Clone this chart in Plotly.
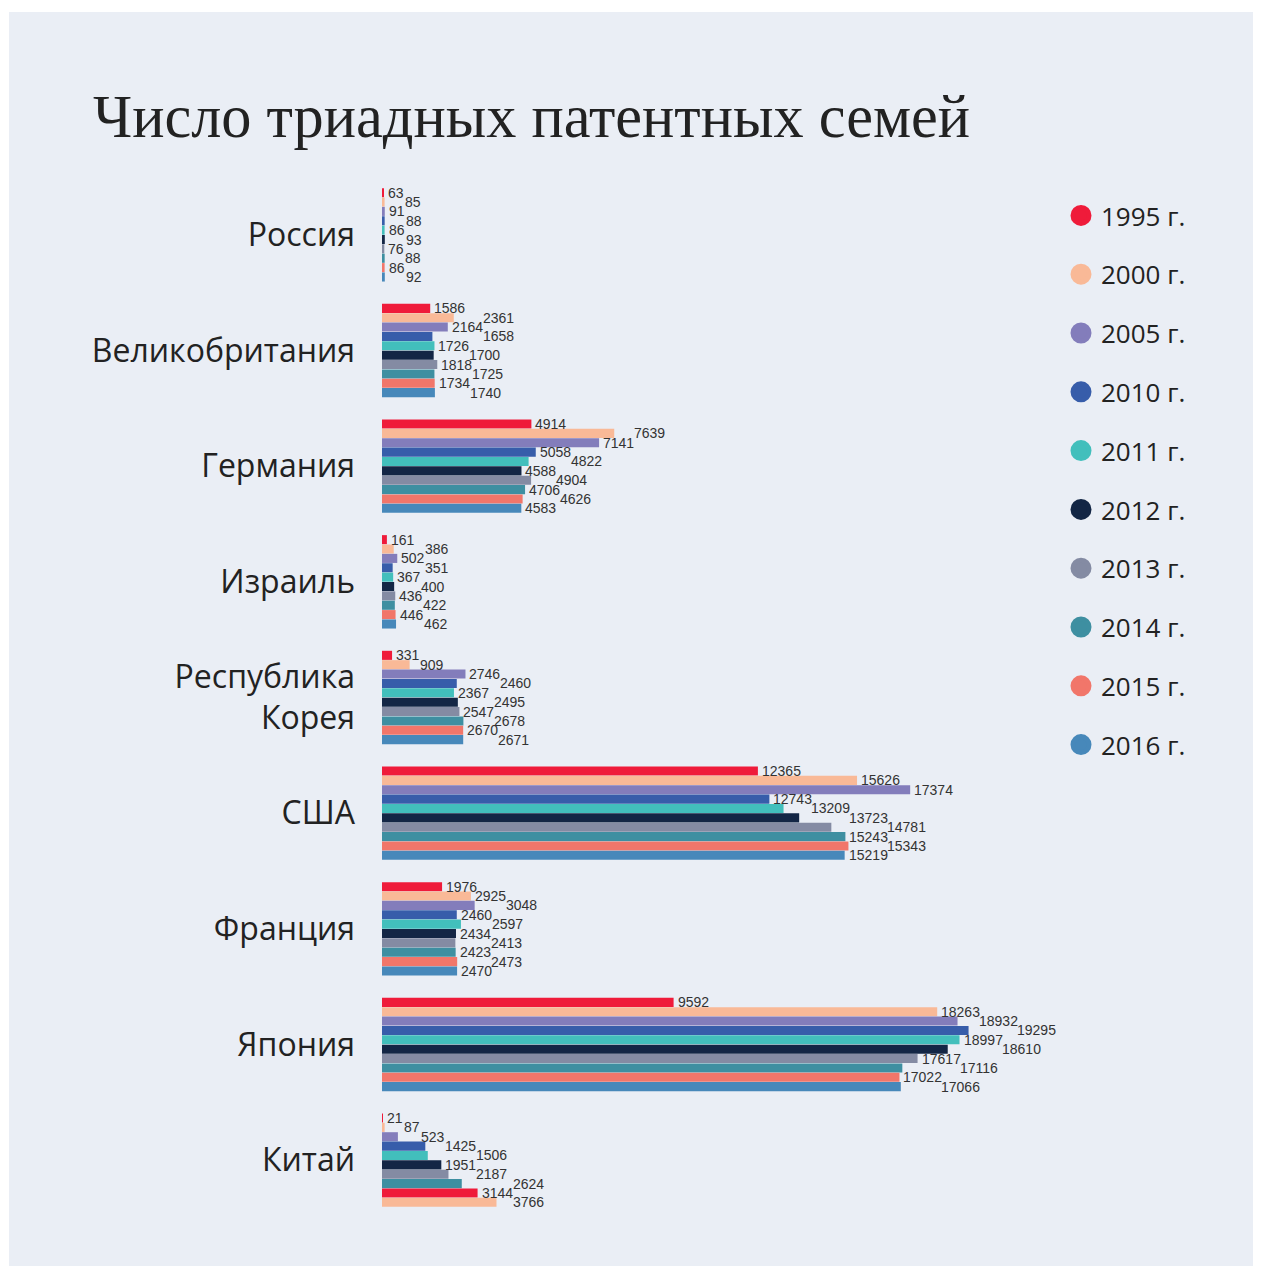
import plotly.graph_objects as go

# ---------------- data ----------------
countries = ["Россия", "Великобритания", "Германия", "Израиль", "Республика<br>Корея",
             "США", "Франция", "Япония", "Китай"]
years = ["1995 г.", "2000 г.", "2005 г.", "2010 г.", "2011 г.", "2012 г.",
         "2013 г.", "2014 г.", "2015 г.", "2016 г."]

v1995 = [63, 1586, 4914, 161, 331, 12365, 1976, 9592, 21]
v2000 = [85, 2361, 7639, 386, 909, 15626, 2925, 18263, 87]
v2005 = [91, 2164, 7141, 502, 2746, 17374, 3048, 18932, 523]
v2010 = [88, 1658, 5058, 351, 2460, 12743, 2460, 19295, 1425]
v2011 = [86, 1726, 4822, 367, 2367, 13209, 2597, 18997, 1506]
v2012 = [93, 1700, 4588, 400, 2495, 13723, 2434, 18610, 1951]
v2013 = [76, 1818, 4904, 436, 2547, 14781, 2413, 17617, 2187]
v2014 = [88, 1725, 4706, 422, 2678, 15243, 2423, 17116, 2624]
v2015 = [86, 1734, 4626, 446, 2670, 15343, 2473, 17022, 3144]
v2016 = [92, 1740, 4583, 462, 2671, 15219, 2470, 17066, 3766]
series = [v1995, v2000, v2005, v2010, v2011, v2012, v2013, v2014, v2015, v2016]

colors = ["#EF1B3A", "#F9B997", "#837DBB", "#375DAA", "#42BFBC",
          "#132645", "#848BA3", "#3E8FA1", "#F1766A", "#4788BA"]
# in the source the China group re-uses the first colours for its last two bars
china_colors = colors[:8] + colors[:2]

# ---------------- layout constants ----------------
FIG_W, FIG_H = 1261, 1266
M_L, M_R, M_T, M_B = 374, 279, 169, 56
PLOT_W = FIG_W - M_L - M_R
PLOT_H = FIG_H - M_T - M_B
X_MAX = 20000
SCALE = PLOT_W / X_MAX          # px per unit
BARGAP = 0.19
N = len(series)
SLOT = (1 - BARGAP) / N         # category units per bar

BG = "#EAEEF5"
TXT = "#222222"
SANS = "Open Sans, Roboto, sans-serif"
LBL_FONT = dict(family="Liberation Sans, Arial, sans-serif", size=14, color="#333333")

fig = go.Figure()

for i, (yr, vals) in enumerate(zip(years, series)):
    mc = [china_colors[i] if c == "Китай" else colors[i] for c in countries]
    fig.add_trace(go.Bar(
        y=countries, x=vals, orientation="h", name=yr,
        marker=dict(color=mc, line=dict(width=0)),
        showlegend=False, hoverinfo="x+name",
    ))

# legend entries (circles)
for i, yr in enumerate(years):
    fig.add_trace(go.Scatter(
        x=[None], y=[None], mode="markers", name=yr, legendgroup=f"g{i}",
        marker=dict(symbol="circle", size=16, color=colors[i],
                    line=dict(width=5, color=colors[i])),
    ))

# ---------------- value labels: simple collision avoidance ----------------
DIGIT_W = 7.0     # approx. px per digit
BASE_GAP = 4      # px between bar end and label
GAP = 3           # px between two colliding labels
TOL = 2
YIELD = 0.47


def tw(n):
    return n * DIGIT_W


def overlaps(a, an, b, bn):
    return a < b + tw(bn) - TOL and a + tw(an) > b + TOL


annotations = []
for j, c in enumerate(countries):
    vals = [series[i][j] for i in range(N)]
    ns = [len(str(v)) for v in vals]
    natural = [v * SCALE + BASE_GAP for v in vals]
    placed = []
    for i in range(N):
        cand = natural[i]
        if i > 0 and overlaps(cand, ns[i], placed[i - 1], ns[i - 1]):
            cand = placed[i - 1] + tw(ns[i - 1]) + GAP
        if i < N - 1:
            nx = natural[i + 1]
            if cand - nx >= YIELD * tw(ns[i]) and overlaps(cand, ns[i], nx, ns[i + 1]):
                alt = nx + tw(ns[i + 1]) + GAP
                if i == 0 or not overlaps(alt, ns[i], placed[i - 1], ns[i - 1]):
                    cand = alt
        placed.append(cand)
    for i in range(N):
        v = vals[i]
        annotations.append(dict(
            x=v, y=j + (i - (N - 1) / 2) * SLOT, xref="x", yref="y",
            text=str(v), showarrow=False, xanchor="left", yanchor="middle",
            xshift=placed[i] - v * SCALE - 2, font=LBL_FONT,
        ))


def px_x(p):
    return (p - M_L) / PLOT_W


def px_y(p):
    return (FIG_H - M_B - p) / PLOT_H


shapes = [
    dict(type="rect", xref="paper", yref="paper", layer="below",
         x0=px_x(-5), x1=px_x(FIG_W + 5), y0=px_y(4), y1=px_y(-5),
         fillcolor="white", line=dict(width=0)),
    dict(type="rect", xref="paper", yref="paper", layer="below",
         x0=px_x(-5), x1=px_x(1), y0=px_y(FIG_H + 5), y1=px_y(-5),
         fillcolor="white", line=dict(width=0)),
]

fig.update_layout(
    width=FIG_W, height=FIG_H,
    margin=dict(l=M_L, r=M_R, t=M_T, b=M_B, autoexpand=False),
    paper_bgcolor=BG, plot_bgcolor=BG,
    barmode="group", bargap=BARGAP, bargroupgap=0.03,
    title=dict(text="Число триадных патентных семей",
               font=dict(family="Liberation Serif, serif", size=60.3, color=TXT),
               x=85 / FIG_W, xref="container", xanchor="left",
               y=1 - 108 / FIG_H, yref="container", yanchor="middle"),
    xaxis=dict(range=[0, X_MAX], visible=False, fixedrange=True),
    yaxis=dict(range=[len(countries) - 0.5, -0.5], categoryorder="array",
               categoryarray=countries, showgrid=False, zeroline=False,
               showline=False, ticks="", ticklabelstandoff=26,
               tickfont=dict(family=SANS, size=32, color=TXT)),
    legend=dict(x=px_x(1053), xanchor="left", y=px_y(184), yanchor="top",
                font=dict(family=SANS, size=26, color=TXT),
                tracegroupgap=22, bgcolor="rgba(0,0,0,0)"),
    annotations=annotations,
    shapes=shapes,
)

fig.write_html("out.html")
